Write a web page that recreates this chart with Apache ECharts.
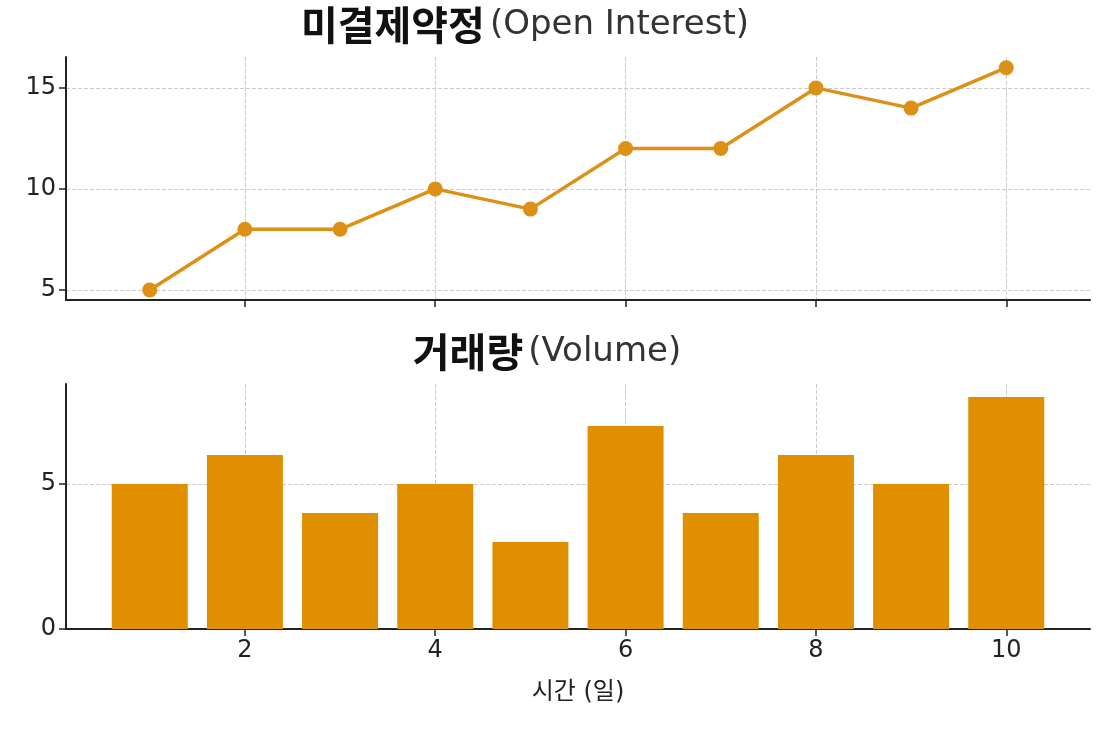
<!DOCTYPE html>
<html><head><meta charset="utf-8">
<script src="https://cdn.jsdelivr.net/npm/echarts@6/dist/echarts.min.js"></script>
<style>html,body{margin:0;background:#fff}#c{width:1106px;height:729px}</style>
</head><body><div id="c"></div>
<script>
const days = [1,2,3,4,5,6,7,8,9,10];
const openInterest = [5,8,8,10,9,12,12,15,14,16];
const volume = [5,6,4,5,3,7,4,6,5,8];
const xTicks = [2,4,6,8,10];
const oiTicks = [5,10,15];
const volTicks = [0,5];
const F = '"DejaVu Sans","Noto Sans CJK KR",sans-serif';
const FK = '"Noto Sans CJK KR",sans-serif';
const chart = echarts.init(document.getElementById('c'));
const grid = {lineStyle:{type:'dashed',color:'#cccccc',width:1}};
function xAxis(idx, showLabel){
  return {type:'value',gridIndex:idx,min:0.12,max:10.88,
    axisLine:{show:true,onZero:false,lineStyle:{color:'#222',width:2}},
    axisTick:{show:true,customValues:xTicks,length:7,lineStyle:{color:'#222',width:1.5}},
    axisLabel:{show:showLabel,customValues:xTicks,fontSize:24,color:'#222',fontFamily:F,margin:10},
    splitLine:{show:true,...grid},
    name: showLabel?'시간 (일)':'',nameLocation:'middle',nameGap:52,
    nameTextStyle:{fontSize:24,color:'#222',fontFamily:F}};
}
function yAxis(idx,min,max,ticks){
  return {type:'value',gridIndex:idx,min,max,
    axisLine:{show:true,lineStyle:{color:'#222',width:2}},
    axisTick:{show:true,customValues:ticks,length:7,lineStyle:{color:'#222',width:1.5}},
    axisLabel:{customValues:ticks,fontSize:24,color:'#222',fontFamily:F,margin:10},
    splitLine:{show:true,...grid}};
}
const rich = {b:{fontSize:40,fontWeight:'bold',color:'#111',fontFamily:FK},
              r:{fontSize:34,fontWeight:'normal',color:'#333',fontFamily:F}};
chart.setOption({
  animation:false,
  title:[
    {text:'{b|미결제약정} {r|(Open Interest)}',left:520,top:0,textAlign:'center',textStyle:{fontWeight:'normal',rich}},
    {text:'{b|거래량} {r|(Volume)}',left:542,top:327,textAlign:'center',textStyle:{fontWeight:'normal',rich}}
  ],
  grid:[{left:66,right:16,top:57,height:243},{left:66,right:16,top:384,height:245}],
  xAxis:[xAxis(0,false),xAxis(1,true)],
  yAxis:[yAxis(0,4.5,16.53,oiTicks),yAxis(1,0,8.45,volTicks)],
  series:[
    {type:'line',xAxisIndex:0,yAxisIndex:0,data:days.map((d,i)=>[d,openInterest[i]]),
     symbol:'circle',symbolSize:15,lineStyle:{color:'#dc9116',width:3.5},itemStyle:{color:'#dc9116'}},
    {type:'bar',xAxisIndex:1,yAxisIndex:1,data:days.map((d,i)=>[d,volume[i]]),
     barWidth:76,itemStyle:{color:'#e08f00'}}
  ]
});
</script></body></html>
